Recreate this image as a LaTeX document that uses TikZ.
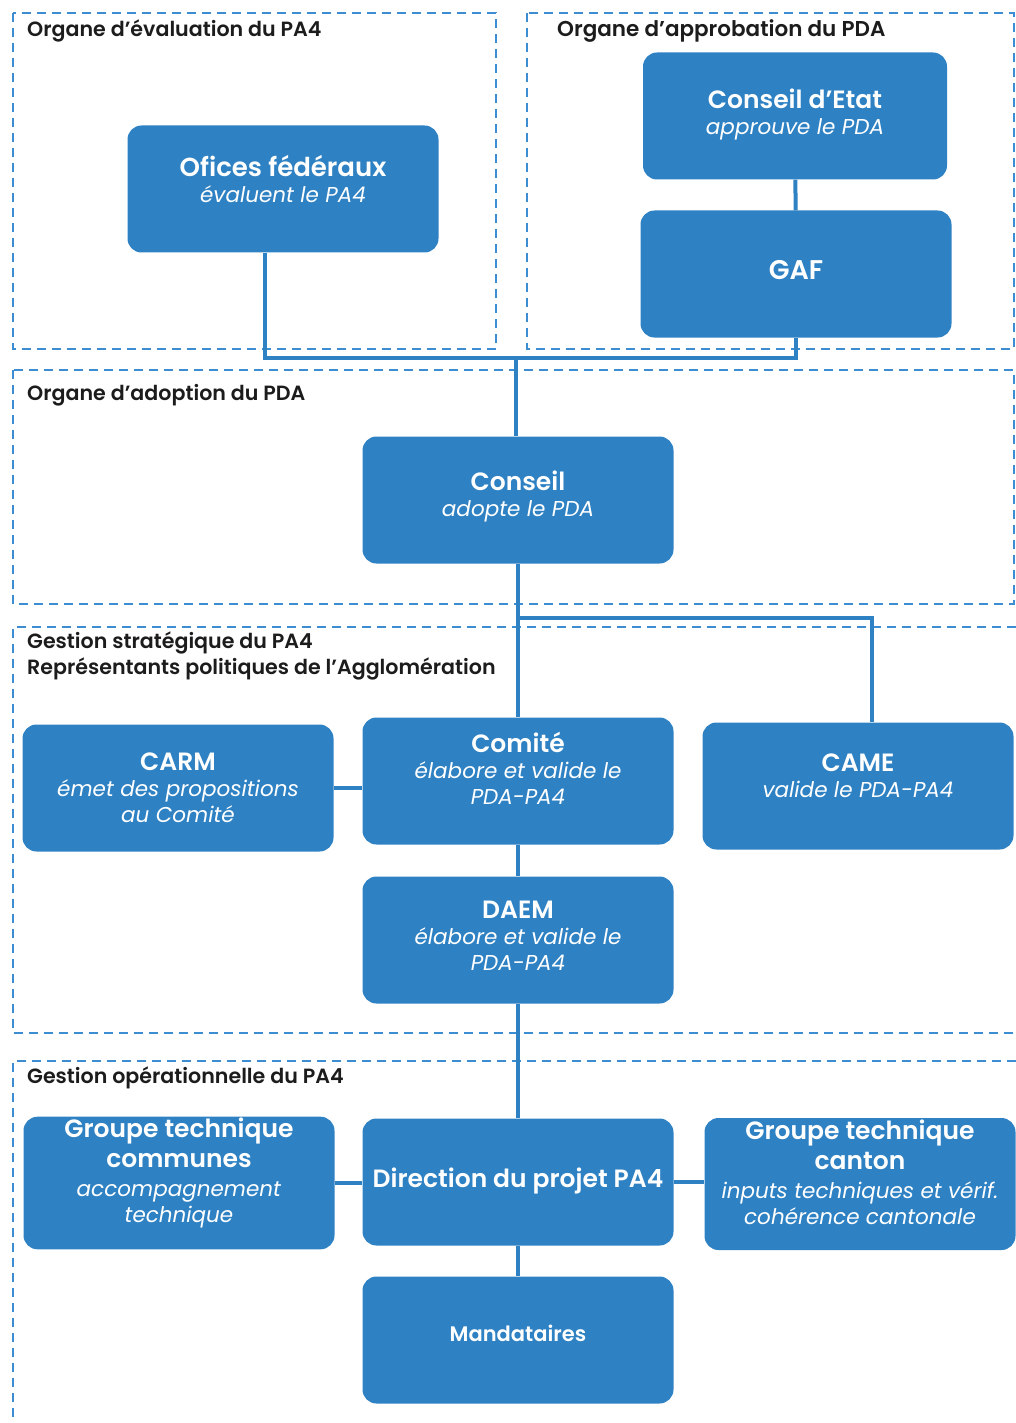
\documentclass[tikz,border=0pt]{standalone}
\usepackage{fontspec}
\setmainfont{Poppins}[BoldFont={Poppins SemiBold}]
\usepackage{tikz}
\definecolor{boxblue}{HTML}{2E81C3}
\definecolor{zoneblue}{HTML}{3D8DD3}
\definecolor{headgray}{HTML}{1C1C1C}

\begin{document}
\begin{tikzpicture}[x=1pt, y=-1pt,
  box/.style = {shape=rectangle, fill=boxblue, rounded corners=14pt,
    minimum width=311pt, minimum height=127pt, inner sep=1pt,
    align=center, text=white, font=\fontsize{21.5}{26}\selectfont},
  zone/.style = {draw=zoneblue, line width=1.8pt, dash pattern=on 9pt off 6pt},
  heading/.style = {anchor=west, inner sep=0pt, text=headgray, align=left,
    font=\fontsize{20.6}{26}\selectfont\bfseries},
  link/.style = {draw=boxblue, line width=4pt}]
  \useasboundingbox (0,0) rectangle (1016,1423);

  % zones
  \draw[zone] (13,13) rectangle (496,349);
  \draw[zone] (527,13) rectangle (1014,349);
  \draw[zone] (13,370) rectangle (1014,604);
  \draw[zone] (1016,627) -- (13,627) -- (13,1033) -- (1016,1033);
  \draw[zone] (1016,1061) -- (13,1061) -- (13,1423);

  \node[heading] (h-eval) at (27,31) {Organe d’évaluation du PA4};
  \node[heading, font=\fontsize{21.5}{26}\selectfont\bfseries] (h-approb) at (557,31) {Organe d’approbation du PDA};
  \node[heading] (h-adopt) at (27,395) {Organe d’adoption du PDA};
  \node[heading, anchor=north west] (h-strat) at (27,632)
    {Gestion stratégique du PA4\\Représentants politiques de l’Agglomération};
  \node[heading] (h-oper) at (27,1078) {Gestion opérationnelle du PA4};

  % boxes
  \node[box] (ofices) at (283,189)
    {{\fontsize{26}{30}\selectfont\bfseries Ofices fédéraux}\\\textit{évaluent le PA4}\\[-6pt]};
  \node[box, minimum width=304pt] (etat) at (795,116)
    {{\fontsize{25}{30}\selectfont\bfseries Conseil d’Etat}\\\textit{approuve le PDA}\\[-18pt]};
  \node[box] (gaf) at (796,274)
    {{\fontsize{27}{30}\selectfont\bfseries GAF}\\[-18pt]};
  \node[box] (conseil) at (518,500)
    {{\fontsize{25}{30}\selectfont\bfseries Conseil}\\\textit{adopte le PDA}\\[-14pt]};
  \node[box] (carm) at (178,788)
    {{\fontsize{25}{30}\selectfont\bfseries CARM}\\\textit{émet des propositions}\\\textit{au Comité}};
  \node[box] (comite) at (518,781)
    {{\fontsize{25}{30}\selectfont\bfseries Comité}\\\textit{élabore et valide le}\\\textit{PDA-PA4}\\[0pt]};
  \node[box] (came) at (858,786)
    {{\fontsize{25}{30}\selectfont\bfseries CAME}\\\textit{valide le PDA-PA4}\\[-6pt]};
  \node[box] (daem) at (518,940)
    {{\fontsize{25}{30}\selectfont\bfseries DAEM}\\\textit{élabore et valide le}\\\textit{PDA-PA4}\\[-18pt]};
  \node[box, minimum height=132pt] (communes) at (179,1183)
    {{\fontsize{25}{30}\selectfont\bfseries Groupe technique}\\[4pt]{\fontsize{25}{30}\selectfont\bfseries communes}\\[3pt]\textit{accompagnement}\\\textit{technique}\\[0pt]};
  \node[box] (direction) at (518,1182)
    {{\fontsize{25}{30}\selectfont\bfseries Direction du projet PA4}\\[-18pt]};
  \node[box, minimum height=132pt] (canton) at (860,1184)
    {{\fontsize{25}{30}\selectfont\bfseries Groupe technique}\\[4pt]{\fontsize{25}{30}\selectfont\bfseries canton}\\[3pt]\textit{inputs techniques et vérif.}\\\textit{cohérence cantonale}\\[-2pt]};
  \node[box] (mandataires) at (518,1340)
    {{\fontsize{21}{25}\selectfont\bfseries Mandataires}\\[-12pt]};

  % links
  \coordinate (top) at (516,358);
  \coordinate (split) at (518,618);
  \draw[link] (etat) -- (gaf);
  \draw[link] ([xshift=-18pt]ofices.south) |- (top);
  \draw[link] (gaf.south) |- (top);
  \draw[link] (top) -- (conseil.north -| top);
  \draw[link] (conseil) -- (comite);
  \draw[link] (split) -| ([xshift=14pt]came.north);
  \draw[link] (carm.east) -- (carm.east -| comite.west);
  \draw[link] (comite) -- (daem);
  \draw[link] (daem) -- (direction);
  \draw[link] (communes.east) -- (communes.east -| direction.west);
  \draw[link] (direction.east) -- (direction.east -| canton.west);
  \draw[link] (direction) -- (mandataires);
\end{tikzpicture}
\end{document}
